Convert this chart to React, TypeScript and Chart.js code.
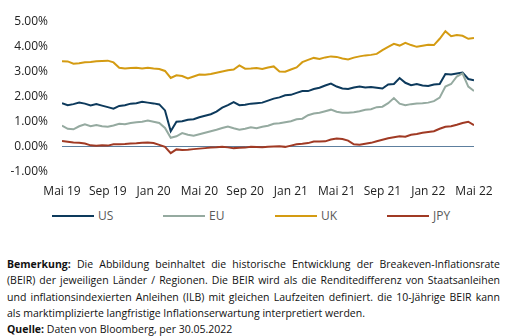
import React, { useEffect, useRef } from "react";
import { Chart, registerables } from "chart.js";

Chart.register(...registerables);

// x positions: months since 30 May 2019, sampled every half month
const STEP_MONTHS = 0.5;
const tickLabels = ["Mai 19", "Sep 19", "Jan 20", "Mai 20", "Sep 20", "Jan 21", "Mai 21", "Sep 21", "Jan 22", "Mai 22"];
const seriesNames = ["US", "EU", "UK", "JPY"];
const seriesColors = ["#0d3a5c", "#95aaa0", "#d49b12", "#a03a24"];

const usValues = [
  1.74, 1.66, 1.70, 1.76, 1.72, 1.65, 1.70, 1.64, 1.58, 1.52,
  1.63, 1.66, 1.72, 1.74, 1.79, 1.76, 1.73, 1.69, 1.45, 0.62,
  1.00, 1.02, 1.08, 1.10, 1.18, 1.24, 1.30, 1.40, 1.56, 1.66,
  1.78, 1.66, 1.68, 1.72, 1.74, 1.76, 1.84, 1.92, 1.97, 2.05,
  2.07, 2.15, 2.22, 2.22, 2.30, 2.35, 2.44, 2.52, 2.40, 2.32,
  2.30, 2.36, 2.40, 2.36, 2.38, 2.35, 2.32, 2.48, 2.50, 2.74,
  2.55, 2.45, 2.50, 2.44, 2.42, 2.48, 2.50, 2.90, 2.88, 2.92,
  2.96, 2.70, 2.65,
];
const euValues = [
  0.85, 0.72, 0.70, 0.82, 0.90, 0.82, 0.87, 0.82, 0.80, 0.85,
  0.92, 0.90, 0.95, 0.98, 1.00, 1.05, 1.00, 0.95, 0.75, 0.36,
  0.42, 0.55, 0.48, 0.44, 0.50, 0.56, 0.62, 0.68, 0.75, 0.81,
  0.74, 0.68, 0.72, 0.78, 0.74, 0.80, 0.84, 0.92, 0.94, 0.98,
  1.02, 1.10, 1.12, 1.26, 1.33, 1.36, 1.42, 1.48, 1.40, 1.36,
  1.36, 1.38, 1.42, 1.48, 1.50, 1.58, 1.60, 1.74, 1.94, 1.72,
  1.66, 1.70, 1.73, 1.74, 1.76, 1.82, 1.96, 2.40, 2.50, 2.80,
  2.92, 2.40, 2.22,
];
const ukValues = [
  3.41, 3.40, 3.31, 3.33, 3.37, 3.38, 3.41, 3.42, 3.43, 3.36,
  3.15, 3.12, 3.14, 3.15, 3.12, 3.15, 3.12, 3.10, 3.02, 2.74,
  2.85, 2.82, 2.72, 2.80, 2.88, 2.87, 2.90, 2.95, 3.00, 3.05,
  3.08, 3.24, 3.11, 3.12, 3.14, 3.10, 3.16, 3.20, 3.00, 2.99,
  3.08, 3.16, 3.37, 3.46, 3.54, 3.50, 3.56, 3.60, 3.58, 3.52,
  3.48, 3.55, 3.60, 3.64, 3.66, 3.70, 3.85, 3.98, 4.10, 4.03,
  4.14, 4.05, 3.98, 4.02, 4.06, 4.05, 4.30, 4.60, 4.40, 4.45,
  4.42, 4.30, 4.33,
];
const jpyValues = [
  0.23, 0.20, 0.17, 0.16, 0.13, 0.06, 0.04, 0.06, 0.05, 0.10,
  0.10, 0.11, 0.13, 0.14, 0.16, 0.17, 0.15, 0.08, 0.00, -0.25,
  -0.10, -0.12, -0.11, -0.09, -0.07, -0.05, -0.03, -0.02, 0.00, -0.02,
  -0.05, -0.04, -0.03, 0.00, -0.01, -0.02, 0.00, 0.01, 0.02, 0.00,
  0.05, 0.10, 0.12, 0.15, 0.21, 0.21, 0.22, 0.29, 0.33, 0.31,
  0.25, 0.10, 0.08, 0.12, 0.16, 0.22, 0.28, 0.34, 0.38, 0.42,
  0.40, 0.48, 0.51, 0.56, 0.59, 0.62, 0.72, 0.80, 0.82, 0.88,
  0.95, 1.00, 0.86,
];
const allValues = [usValues, euValues, ukValues, jpyValues];
const drawOrder = [1, 0, 2, 3];

const noteLines = [
  "Die Abbildung beinhaltet die historische Entwicklung der Breakeven-Inflationsrate",
  "(BEIR) der jeweiligen Länder / Regionen. Die BEIR wird als die Renditedifferenz von Staatsanleihen",
  "und inflationsindexierten Anleihen (ILB) mit gleichen Laufzeiten definiert. die 10-Jährige BEIR kann",
  "als marktimplizierte langfristige Inflationserwartung interpretiert werden.",
];
const sourceText = "Daten von Bloomberg, per 30.05.2022";

const FONT = "'Open Sans', 'Noto Sans', sans-serif";

export default function App() {
  const canvasRef = useRef<HTMLCanvasElement | null>(null);

  useEffect(() => {
    const canvas = canvasRef.current;
    if (!canvas) return;
    const chart = new Chart(canvas, {
      type: "line",
      data: {
        datasets: allValues.map((vals, si) => ({
          label: seriesNames[si],
          data: vals.map((v, i) => ({ x: i * STEP_MONTHS, y: v })),
          borderColor: seriesColors[si],
          backgroundColor: seriesColors[si],
          borderWidth: 2,
          pointRadius: 0,
          tension: 0,
          order: drawOrder[si],
        })),
      },
      options: {
        animation: false,
        responsive: false,
        maintainAspectRatio: false,
        layout: { padding: { top: 16, right: 52, left: 0, bottom: 0 } },
        plugins: { legend: { display: false }, tooltip: { enabled: false } },
        scales: {
          x: {
            type: "linear",
            min: 0,
            max: 36,
            afterBuildTicks: (scale: any) => {
              scale.ticks = tickLabels.map((_, i) => ({ value: i * 4 }));
            },
            afterFit: (scale: any) => {
              scale.height = 28;
            },
            grid: { display: false, drawTicks: false },
            border: { display: false },
            ticks: {
              padding: 12,
              maxRotation: 0,
              autoSkip: false,
              color: "#222",
              font: { family: FONT, size: 12 },
              callback: (v: any) => tickLabels[Math.round(Number(v) / 4)] ?? "",
            },
          },
          y: {
            min: -1,
            max: 5,
            afterFit: (scale: any) => {
              scale.width = 62;
            },
            grid: {
              drawTicks: false,
              lineWidth: 1,
              color: (ctx: any) => (ctx.tick && ctx.tick.value === 0 ? "#5d7f9e" : "rgba(0,0,0,0)"),
            },
            border: { display: false },
            ticks: {
              stepSize: 1,
              padding: 14,
              color: "#222",
              font: { family: FONT, size: 12 },
              callback: (v: any) => Number(v).toFixed(2) + "%",
            },
          },
        },
      },
    });
    return () => chart.destroy();
  }, []);

  const legendLeft = [52, 163, 275, 387];

  return (
    <div
      style={{
        position: "absolute",
        left: 0,
        top: 0,
        width: 526,
        height: 336,
        background: "#fff",
        fontFamily: FONT,
        overflow: "hidden",
      }}
    >
      <canvas ref={canvasRef} width={526} height={200} style={{ position: "absolute", left: 0, top: 0, width: 526, height: 200 }} />
      {seriesNames.map((name, i) => (
        <div key={name} style={{ position: "absolute", left: legendLeft[i], top: 207, height: 18, display: "flex", alignItems: "center" }}>
          <div style={{ width: 42, height: 2, background: seriesColors[i] }} />
          <span style={{ marginLeft: 4, fontSize: 12, color: "#595959", lineHeight: "18px" }}>{name}</span>
        </div>
      ))}
      <div style={{ position: "absolute", left: 7, top: 256, width: 493, fontSize: 10.5, lineHeight: "16.3px", color: "#111" }}>
        {noteLines.map((line, i) => (
          <div
            key={i}
            style={{
              textAlign: "justify",
              textAlignLast: i < 3 ? "justify" : "left",
              whiteSpace: "nowrap",
            }}
          >
            {i === 0 ? <b>Bemerkung: </b> : null}
            {line}
          </div>
        ))}
        <div>
          <b>Quelle: </b>
          {sourceText}
        </div>
      </div>
    </div>
  );
}
